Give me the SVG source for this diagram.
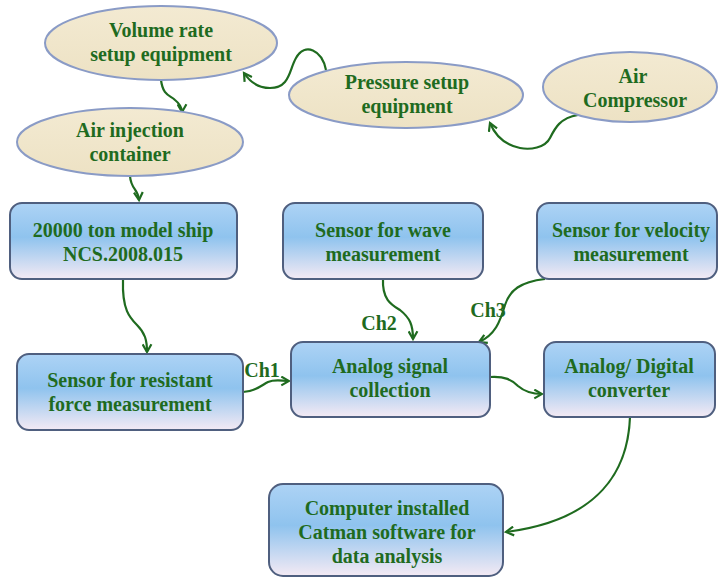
<svg xmlns="http://www.w3.org/2000/svg" width="718" height="578" viewBox="0 0 718 578">
<style>
.t{font-family:"Liberation Serif","Times New Roman",serif;font-weight:bold;font-size:20px;fill:#1f6b1f;text-anchor:middle}
.box{fill:url(#bg);stroke:#4f5f7f;stroke-width:2}
.ell{fill:url(#eg);stroke:#8a9bc6;stroke-width:2}
.c{fill:none;stroke:#1f6b1f;stroke-width:2.2;marker-end:url(#ah)}
</style>
<defs>
<linearGradient id="bg" x1="0" y1="0" x2="0" y2="1">
<stop offset="0" stop-color="#add3f5"/>
<stop offset="0.45" stop-color="#8fc3ee"/>
<stop offset="1" stop-color="#f4eaf4"/>
</linearGradient>
<linearGradient id="eg" x1="0" y1="0" x2="0" y2="1">
<stop offset="0" stop-color="#f3ead2"/>
<stop offset="1" stop-color="#ede2c4"/>
</linearGradient>
<marker id="ah" viewBox="0 0 10 10" refX="8" refY="5" markerWidth="5" markerHeight="5" orient="auto" markerUnits="strokeWidth">
<path d="M1,1 L8,5 L1,9" fill="none" stroke="#1f6b1f" stroke-width="2"/>
</marker>
</defs>
<rect width="718" height="578" fill="#ffffff"/>
<g id="connectors">
<path class="c" d="M161,80 C163,96 170,95 175,100 C180,104 182,108 182,112"/>
<path class="c" d="M326,70 C322,50 305,42 296,58 C289,70 290,88 270,88 C258,88 250,82 244,73"/>
<path class="c" d="M578,115 C560,118 555,128 550,138 C545,148 530,150 520,148 C505,145 495,135 490,123"/>
<path class="c" d="M130,176 C131,190 138,188 139,200"/>
<path class="c" d="M123,280 C122,310 130,318 137,325 C145,333 147,340 147,352"/>
<path class="c" d="M243,392 C255,392 262,385 268,382 C275,379 282,381 289,381"/>
<path class="c" d="M383,279 C382,300 392,305 400,310 C410,318 413,325 413,339"/>
<path class="c" d="M545,279 C520,282 510,290 505,305 C500,322 495,335 479,342"/>
<path class="c" d="M490,377 C505,376 512,380 518,386 C525,392 533,394 542,394"/>
<path class="c" d="M630,417 C628,470 600,520 506,532"/>
<text class="t" x="262" y="377">Ch1</text>
<text class="t" x="379" y="330">Ch2</text>
<text class="t" x="488" y="317">Ch3</text>
</g>
<g id="volume">
<ellipse class="ell" cx="161" cy="43" rx="116" ry="37"/>
<text class="t" x="161" y="37">Volume rate</text>
<text class="t" x="161" y="61">setup equipment</text>
</g>
<g id="injection">
<ellipse class="ell" cx="130" cy="142" rx="113" ry="34"/>
<text class="t" x="130" y="137">Air injection</text>
<text class="t" x="130" y="161">container</text>
</g>
<g id="pressure">
<ellipse class="ell" cx="406" cy="95" rx="117" ry="33"/>
<text class="t" x="407" y="89">Pressure setup</text>
<text class="t" x="407" y="113">equipment</text>
</g>
<g id="compressor">
<ellipse class="ell" cx="630" cy="87" rx="87" ry="35"/>
<text class="t" x="633" y="83">Air</text>
<text class="t" x="635" y="107">Compressor</text>
</g>
<g id="ship">
<rect class="box" x="10" y="203" width="227" height="76" rx="12"/>
<text class="t" x="123" y="237">20000 ton model ship</text>
<text class="t" x="123" y="261">NCS.2008.015</text>
</g>
<g id="wave">
<rect class="box" x="283" y="203" width="200" height="76" rx="12"/>
<text class="t" x="383" y="237">Sensor for wave</text>
<text class="t" x="383" y="261">measurement</text>
</g>
<g id="velocity">
<rect class="box" x="537" y="203" width="180" height="76" rx="12"/>
<text class="t" x="631" y="237">Sensor for velocity</text>
<text class="t" x="631" y="261">measurement</text>
</g>
<g id="resistant">
<rect class="box" x="17" y="354" width="226" height="76" rx="12"/>
<text class="t" x="130" y="387">Sensor for resistant</text>
<text class="t" x="130" y="411">force measurement</text>
</g>
<g id="analog">
<rect class="box" x="291" y="342" width="199" height="75" rx="12"/>
<text class="t" x="390" y="373">Analog signal</text>
<text class="t" x="390" y="397">collection</text>
</g>
<g id="adc">
<rect class="box" x="544" y="342" width="171" height="75" rx="12"/>
<text class="t" x="629" y="373">Analog/ Digital</text>
<text class="t" x="629" y="397">converter</text>
</g>
<g id="computer">
<rect class="box" x="269" y="484" width="234" height="92" rx="14"/>
<text class="t" x="387" y="515">Computer installed</text>
<text class="t" x="387" y="539">Catman software for</text>
<text class="t" x="387" y="563">data analysis</text>
</g>
</svg>
